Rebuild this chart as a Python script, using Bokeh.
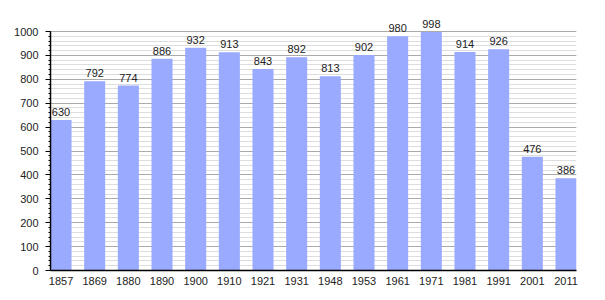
from bokeh.plotting import figure
from bokeh.models import ColumnDataSource, SingleIntervalTicker, FixedTicker, Range1d
from bokeh.core.properties import value
from bokeh.embed import file_html
from bokeh.resources import INLINE

years = ["1857", "1869", "1880", "1890", "1900", "1910", "1921", "1931",
         "1948", "1953", "1961", "1971", "1981", "1991", "2001", "2011"]
population = [630, 792, 774, 886, 932, 913, 843, 892, 813, 902, 980, 998, 914, 926, 476, 386]

idx = list(range(len(years)))
src = ColumnDataSource(dict(x=idx, y=population, label=[str(v) for v in population]))

top_border = 11
bottom_border = 30
frame_h = 300 - top_border - bottom_border
y_end = 1000 * frame_h / 239.0

p = figure(width=605, height=300, output_backend="svg", toolbar_location=None,
           x_range=Range1d(-0.3125, len(years) - 1 + 0.3125), y_range=Range1d(0, y_end),
           min_border_left=50, min_border_right=29, min_border_top=top_border,
           min_border_bottom=bottom_border)
p.outline_line_color = None
p.background_fill_color = "white"
p.border_fill_color = "white"

p.vbar(x="x", top="y", width=0.625, source=src, fill_color="#99aaff", line_color=None)
p.text(x="x", y="y", text="label", source=src, text_align="center", text_baseline="bottom",
       y_offset=-4, text_font=value("Liberation Sans"), text_font_size="11px",
       text_color="#222222")

p.yaxis.ticker = SingleIntervalTicker(interval=100, num_minor_ticks=5)
p.yaxis.bounds = (0, 1000)
p.xaxis.ticker = FixedTicker(ticks=idx)
p.xaxis.major_label_overrides = {i: y for i, y in enumerate(years)}

for ax in (p.xaxis, p.yaxis):
    ax.axis_line_color = "black"
    ax.axis_line_width = 1.5
    ax.major_label_text_font = "Liberation Sans"
    ax.major_label_text_font_size = "11px"
    ax.major_label_text_color = "#222222"

p.xaxis.major_tick_line_color = None
p.xaxis.minor_tick_line_color = None
p.xaxis.major_label_standoff = 0
p.yaxis.major_tick_out = 5
p.yaxis.major_tick_in = 0
p.yaxis.minor_tick_out = 2
p.yaxis.minor_tick_in = 0
p.yaxis.major_tick_line_color = "black"
p.yaxis.minor_tick_line_color = "black"
p.yaxis.major_label_standoff = 7

p.xgrid.grid_line_color = None
p.ygrid.bounds = (0, 1000)
p.ygrid.grid_line_color = "#aaaaaa"
p.ygrid.minor_grid_line_color = "#dddddd"

open("out.html", "w").write(file_html(p, INLINE))
